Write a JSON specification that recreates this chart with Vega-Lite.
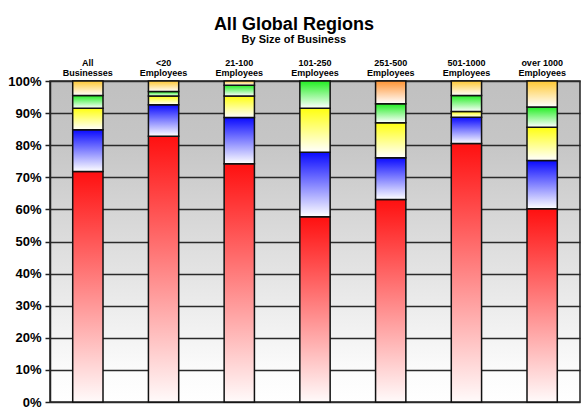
{
  "$schema": "https://vega.github.io/schema/vega-lite/v6.json",
  "autosize": "none",
  "width": 530,
  "height": 321,
  "padding": {"top": 81, "left": 50, "right": 5, "bottom": 11},
  "background": "white",
  "title": {
    "text": "All Global Regions",
    "subtitle": "By Size of Business",
    "frame": "bounds",
    "anchor": "middle",
    "font": "Liberation Sans",
    "fontSize": 18,
    "fontWeight": "bold",
    "color": "black",
    "subtitleFont": "Liberation Sans",
    "subtitleFontSize": 11,
    "subtitleFontWeight": "bold",
    "subtitleColor": "black",
    "subtitlePadding": 0,
    "offset": 13
  },
  "config": {
    "view": {
      "stroke": "#222222",
      "strokeWidth": 1.5,
      "fill": {
        "gradient": "linear",
        "x1": 0, "y1": 0, "x2": 0, "y2": 1,
        "stops": [
          {"offset": 0, "color": "#c0c0c0"},
          {"offset": 0.2, "color": "#c6c6c6"},
          {"offset": 0.6, "color": "#e4e4e4"},
          {"offset": 0.9, "color": "#fbfbfb"},
          {"offset": 1, "color": "#ffffff"}
        ]
      }
    }
  },
  "data": {
    "values": [
      {"size": "All Businesses", "segment": "Red", "order": 1, "value": 71.8},
      {"size": "All Businesses", "segment": "Blue", "order": 2, "value": 13.0},
      {"size": "All Businesses", "segment": "Yellow", "order": 3, "value": 6.7},
      {"size": "All Businesses", "segment": "Green", "order": 4, "value": 4.0},
      {"size": "All Businesses", "segment": "Gold", "order": 5, "value": 4.5},
      {"size": "<20 Employees", "segment": "Red", "order": 1, "value": 82.8},
      {"size": "<20 Employees", "segment": "Blue", "order": 2, "value": 9.8},
      {"size": "<20 Employees", "segment": "Yellow", "order": 3, "value": 2.7},
      {"size": "<20 Employees", "segment": "Green", "order": 4, "value": 1.4},
      {"size": "<20 Employees", "segment": "Gold", "order": 5, "value": 3.3},
      {"size": "21-100 Employees", "segment": "Red", "order": 1, "value": 74.2},
      {"size": "21-100 Employees", "segment": "Blue", "order": 2, "value": 14.4},
      {"size": "21-100 Employees", "segment": "Yellow", "order": 3, "value": 6.7},
      {"size": "21-100 Employees", "segment": "Green", "order": 4, "value": 3.4},
      {"size": "21-100 Employees", "segment": "Gold", "order": 5, "value": 1.3},
      {"size": "101-250 Employees", "segment": "Red", "order": 1, "value": 57.7},
      {"size": "101-250 Employees", "segment": "Blue", "order": 2, "value": 20.1},
      {"size": "101-250 Employees", "segment": "Yellow", "order": 3, "value": 13.7},
      {"size": "101-250 Employees", "segment": "Green", "order": 4, "value": 8.5},
      {"size": "251-500 Employees", "segment": "Red", "order": 1, "value": 63.1},
      {"size": "251-500 Employees", "segment": "Blue", "order": 2, "value": 13.0},
      {"size": "251-500 Employees", "segment": "Yellow", "order": 3, "value": 10.9},
      {"size": "251-500 Employees", "segment": "Green", "order": 4, "value": 5.9},
      {"size": "251-500 Employees", "segment": "Orange", "order": 6, "value": 7.1},
      {"size": "501-1000 Employees", "segment": "Red", "order": 1, "value": 80.5},
      {"size": "501-1000 Employees", "segment": "Blue", "order": 2, "value": 8.2},
      {"size": "501-1000 Employees", "segment": "Yellow", "order": 3, "value": 1.8},
      {"size": "501-1000 Employees", "segment": "Green", "order": 4, "value": 5.0},
      {"size": "501-1000 Employees", "segment": "Gold", "order": 5, "value": 4.5},
      {"size": "over 1000 Employees", "segment": "Red", "order": 1, "value": 60.2},
      {"size": "over 1000 Employees", "segment": "Blue", "order": 2, "value": 15.0},
      {"size": "over 1000 Employees", "segment": "Yellow", "order": 3, "value": 10.4},
      {"size": "over 1000 Employees", "segment": "Green", "order": 4, "value": 6.3},
      {"size": "over 1000 Employees", "segment": "Gold", "order": 5, "value": 8.1}
    ]
  },
  "transform": [
    {"stack": "value", "groupby": ["size"], "sort": [{"field": "order", "order": "ascending"}], "as": ["v0", "v1"]}
  ],
  "encoding": {
    "x": {
      "field": "size",
      "type": "nominal",
      "sort": null,
      "scale": {"paddingInner": 0.6, "paddingOuter": 0.3},
      "axis": {
        "orient": "top",
        "title": null,
        "ticks": false,
        "domain": false,
        "labelAngle": 0,
        "labelFont": "Liberation Sans",
        "labelFontSize": 9,
        "labelFontWeight": "bold",
        "labelColor": "black",
        "labelLineHeight": 10.5,
        "labelPadding": 14,
        "labelExpr": "indexof(datum.label, 'Employees') > 0 ? [replace(datum.label, ' Employees', ''), 'Employees'] : split(datum.label, ' ')"
      }
    },
    "y": {
      "field": "v1",
      "type": "quantitative",
      "scale": {"domain": [0, 100], "nice": false},
      "axis": {
        "title": null,
        "values": [0, 10, 20, 30, 40, 50, 60, 70, 80, 90, 100],
        "labelExpr": "datum.value + '%'",
        "labelFont": "Liberation Sans",
        "labelFontSize": 13,
        "labelFontWeight": "bold",
        "labelColor": "black",
        "labelPadding": 4,
        "tickSize": 5,
        "tickColor": "#222222",
        "tickWidth": 1.5,
        "domainColor": "#222222",
        "domainWidth": 1.5,
        "grid": true,
        "gridColor": "#2a2a2a",
        "gridWidth": 1.5,
        "gridOpacity": 1
      }
    },
    "y2": {"field": "v0"}
  },
  "layer": [
    {
      "transform": [{"filter": "datum.segment == 'Red'"}],
      "mark": {"type": "bar", "stroke": "#111111", "strokeWidth": 1.5, "fill": {"gradient": "linear", "x1": 0, "y1": 0, "x2": 0, "y2": 1, "stops": [{"offset": 0, "color": "#ff1010"}, {"offset": 1, "color": "#fffafa"}]}}
    },
    {
      "transform": [{"filter": "datum.segment == 'Blue'"}],
      "mark": {"type": "bar", "stroke": "#111111", "strokeWidth": 1.5, "fill": {"gradient": "linear", "x1": 0, "y1": 0, "x2": 0, "y2": 1, "stops": [{"offset": 0, "color": "#0a0aff"}, {"offset": 1, "color": "#ffffff"}]}}
    },
    {
      "transform": [{"filter": "datum.segment == 'Yellow'"}],
      "mark": {"type": "bar", "stroke": "#111111", "strokeWidth": 1.5, "fill": {"gradient": "linear", "x1": 0, "y1": 0, "x2": 0, "y2": 1, "stops": [{"offset": 0, "color": "#ffff10"}, {"offset": 1, "color": "#ffffff"}]}}
    },
    {
      "transform": [{"filter": "datum.segment == 'Green'"}],
      "mark": {"type": "bar", "stroke": "#111111", "strokeWidth": 1.5, "fill": {"gradient": "linear", "x1": 0, "y1": 0, "x2": 0, "y2": 1, "stops": [{"offset": 0, "color": "#22ee22"}, {"offset": 1, "color": "#ffffff"}]}}
    },
    {
      "transform": [{"filter": "datum.segment == 'Gold'"}],
      "mark": {"type": "bar", "stroke": "#111111", "strokeWidth": 1.5, "fill": {"gradient": "linear", "x1": 0, "y1": 0, "x2": 0, "y2": 1, "stops": [{"offset": 0, "color": "#ffc833"}, {"offset": 1, "color": "#ffffff"}]}}
    },
    {
      "transform": [{"filter": "datum.segment == 'Orange'"}],
      "mark": {"type": "bar", "stroke": "#111111", "strokeWidth": 1.5, "fill": {"gradient": "linear", "x1": 0, "y1": 0, "x2": 0, "y2": 1, "stops": [{"offset": 0, "color": "#ff9433"}, {"offset": 1, "color": "#ffffff"}]}}
    }
  ]
}
